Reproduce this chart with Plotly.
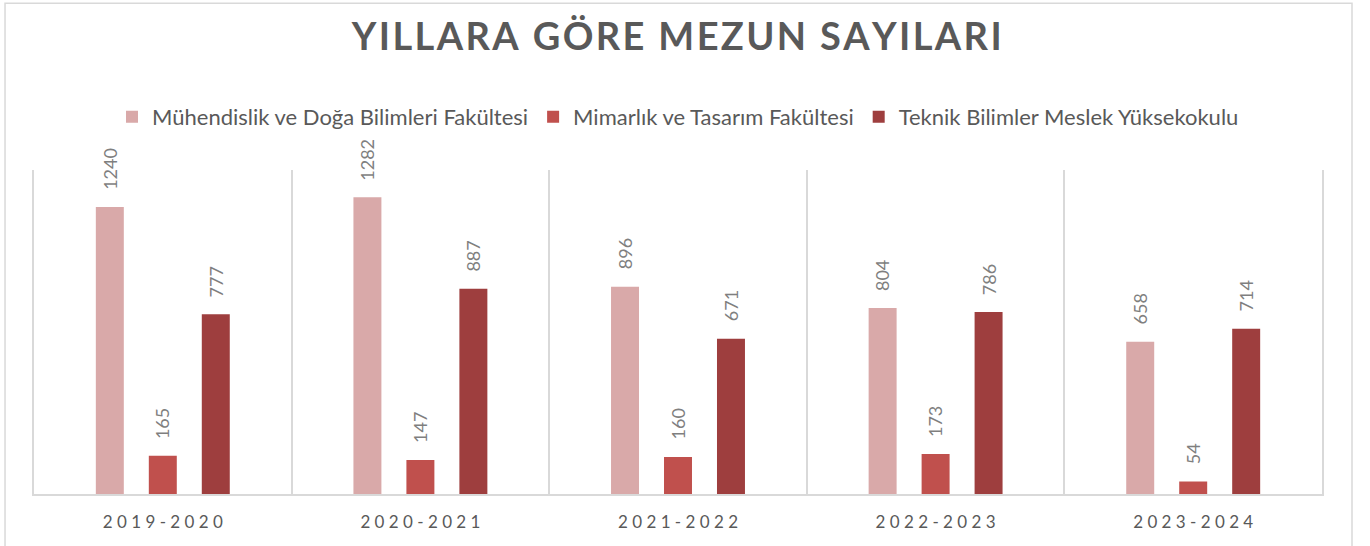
import plotly.graph_objects as go

years = ["2019-2020", "2020-2021", "2021-2022", "2022-2023", "2023-2024"]
series_names = [
    "Mühendislik ve Doğa Bilimleri Fakültesi",
    "Mimarlık ve Tasarım Fakültesi",
    "Teknik Bilimler Meslek Yüksekokulu",
]
muhendislik = [1240, 1282, 896, 804, 658]
mimarlik = [165, 147, 160, 173, 54]
teknik = [777, 887, 671, 786, 714]
colors = ["#D9A9A9", "#C0504D", "#9E3E3E"]
title_text = "YILLARA GÖRE MEZUN SAYILARI"

FONT = "Lato"
series_values = [muhendislik, mimarlik, teknik]

fig = go.Figure()
for name, vals, col in zip(series_names, series_values, colors):
    fig.add_trace(go.Bar(x=years, y=vals, name=name, marker_color=col,
                         marker_line_width=0))

# value labels rotated above each bar
shifts = [-53, 0, 53]
annotations = []
for vals, dx in zip(series_values, shifts):
    for yr, v in zip(years, vals):
        annotations.append(dict(
            x=yr, y=v, xref="x", yref="y", text=str(v), textangle=-90,
            showarrow=False, xanchor="center", yanchor="bottom",
            xshift=dx, yshift=15,
            font=dict(family=FONT, size=18, color="#7F7F7F"),
        ))

fig.update_layout(
    width=1370, height=546,
    margin=dict(l=34, r=48, t=170, b=52),
    paper_bgcolor="white", plot_bgcolor="white",
    barmode="group", bargap=0.383, bargroupgap=0.472,
    title=dict(text="<b>" + "\u200a".join(title_text) + "</b>", x=0.494, xanchor="center",
               y=0.932, yanchor="middle",
               font=dict(family=FONT, size=38, color="#595959")),
    legend=dict(orientation="h", x=0.5, xanchor="center", y=1.164, yanchor="middle",
                font=dict(family=FONT, size=22, color="#595959"),
                bgcolor="rgba(0,0,0,0)"),
    annotations=annotations,
    shapes=[dict(type="rect", xref="paper", yref="paper",
                 x0=-0.0225, x1=1.0233, y0=-0.3, y1=1.515,
                 line=dict(color="#D9D9D9", width=1.5))],
)

fig.update_xaxes(
    tickvals=years,
    ticktext=[" ".join(y) for y in years],
    tickfont=dict(family=FONT, size=17, color="#595959"),
    showgrid=True, gridcolor="#D9D9D9", gridwidth=1.5, tickson="boundaries",
    ticks="", ticklabelstandoff=12,
    showline=True, linecolor="#D9D9D9", linewidth=1.5,
)
fig.update_yaxes(
    range=[0, 1400], showgrid=False, zeroline=False, showticklabels=False,
    showline=True, mirror=True, linecolor="#D9D9D9", linewidth=1.5,
)

fig.write_html("out.html", config={"displayModeBar": False},
               post_script="document.body.style.margin='0';")
